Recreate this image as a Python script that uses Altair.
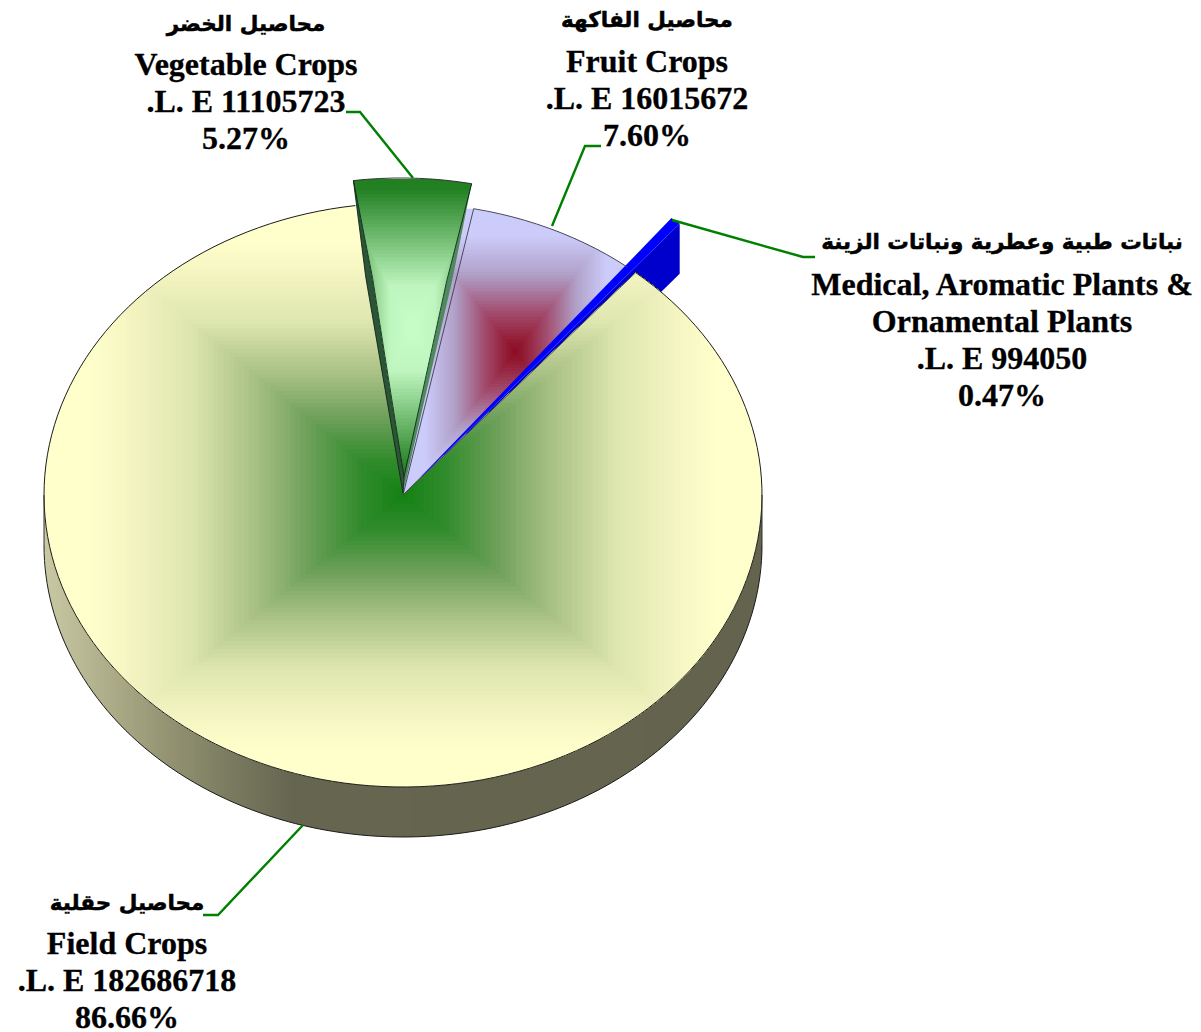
import numpy as np
import pandas as pd
import altair as alt

alt.data_transformers.disable_max_rows()

# ---- data ----
names_ar = ["محاصيل حقلية", "محاصيل الخضر", "محاصيل الفاكهة", "نباتات طبية وعطرية ونباتات الزينة"]
names_en = [["Field Crops"], ["Vegetable Crops"], ["Fruit Crops"], ["Medical, Aromatic Plants &", "Ornamental Plants"]]
values = [182686718, 11105723, 16015672, 994050]

# ---- layout ----
CX, CY, RX, RY, DEPTH = 403.0, 495.0, 359.0, 292.0, 50.0
START = 40.4
VEG_SHIFT = (-2.0, -25.0)
MED_SHIFT = (44.0, -49.0)
FRUIT_UNDERLAP = 3.0
LABEL_X = [127, 246, 647, 1002]
LABEL_Y = [[904, 944, 981, 1018], [25, 65, 102, 139], [21, 62, 99, 136], [243, 285, 322, 359, 396]]
LEADERS = [
    [(203, 915), (218, 915), (303, 825)],
    [(346, 112), (360, 112), (413, 178)],
    [(601, 146), (585, 146), (552, 226)],
    [(815, 257), (803, 257), (672, 220)],
]
LEADER_GREEN = "#008000"

total = sum(values)
spans = [v / total * 360 for v in values]
edges = [START]
for s in spans:
    edges.append(edges[-1] + s)


def pt(deg, shift=(0.0, 0.0)):
    a = np.radians(deg)
    return (CX + RX * np.sin(a) + shift[0], CY - RY * np.cos(a) + shift[1])


def arc(a0, a1, shift=(0.0, 0.0), step=2.0):
    n = max(2, int(abs(a1 - a0) / step) + 1)
    return [pt(d, shift) for d in np.linspace(a0, a1, n)]


def clip_rect(poly, x0, x1, y0, y1):
    def clip(p, inside, cross):
        out = []
        for i in range(len(p)):
            a, b = p[i - 1], p[i]
            ia, ib = inside(a), inside(b)
            if ib:
                if not ia:
                    out.append(cross(a, b))
                out.append(b)
            elif ia:
                out.append(cross(a, b))
        return out

    def cx(v):
        return lambda a, b: (v, a[1] + (b[1] - a[1]) * (v - a[0]) / (b[0] - a[0]))

    def cy(v):
        return lambda a, b: (a[0] + (b[0] - a[0]) * (v - a[1]) / (b[1] - a[1]), v)

    for inside, cross in [
        (lambda q: q[0] >= x0, cx(x0)),
        (lambda q: q[0] <= x1, cx(x1)),
        (lambda q: q[1] >= y0, cy(y0)),
        (lambda q: q[1] <= y1, cy(y1)),
    ]:
        if not poly:
            return poly
        poly = clip(poly, inside, cross)
    return poly


def ramp(stops, t):
    ts = [s[0] for s in stops]
    rgb = [np.interp(t, ts, [s[1][k] for s in stops]) for k in range(3)]
    return "#%02x%02x%02x" % tuple(int(round(v)) for v in rgb)


polys = []  # (points, colour)


def add(points, colour):
    polys.append((points, colour))


def gradient(poly, center, half, stops, levels):
    for t in np.linspace(1.0, 0.0, levels, endpoint=False):
        p = clip_rect(poly, center[0] - half[0] * t, center[0] + half[0] * t,
                      center[1] - half[1] * t, center[1] + half[1] * t)
        if len(p) >= 3:
            add(p, ramp(stops, t))


# extruded wall of the big slice, shaded in vertical strips
wall_stops = [(44, (200, 200, 163)), (100, (176, 176, 140)), (170, (146, 146, 114)),
              (230, (122, 122, 96)), (290, (102, 101, 80)), (762, (100, 99, 78))]
for x in np.arange(CX - RX, CX + RX, 3.0):
    xs = np.linspace(x, min(x + 3.8, CX + RX), 3)
    top = CY + RY * np.sqrt(np.clip(1 - ((xs - CX) / RX) ** 2, 0, 1))
    p = list(zip(xs, top)) + list(zip(xs[::-1], (top + DEPTH)[::-1]))
    add(p, ramp(wall_stops, x))

apex = (CX, CY)
# medicinal slice: wall, fruit slice, then medicinal top face
m0, m1 = pt(edges[3], MED_SHIFT), pt(edges[4], MED_SHIFT)
add([m1, (m1[0], m1[1] + DEPTH), (CX, CY + DEPTH), apex], "#0000cc")

fruit_true = [apex] + arc(edges[2], edges[3])
fx = [p[0] for p in fruit_true]
fy = [p[1] for p in fruit_true]
fruit_poly = [apex] + arc(edges[2] - FRUIT_UNDERLAP, edges[3])
gradient(fruit_poly, ((min(fx) + max(fx)) / 2, (min(fy) + max(fy)) / 2),
         ((max(fx) - min(fx)) / 2, (max(fy) - min(fy)) / 2),
         [(0, (139, 10, 35)), (0.1, (148, 30, 55)), (0.3, (163, 80, 115)), (0.55, (176, 160, 200)),
          (0.82, (204, 204, 250)), (1, (204, 204, 250))], 45)

add([apex, m0, m1], "#0000ff")

# big slice
field_poly = [apex] + arc(edges[0], edges[1])
gradient(field_poly, apex, (RX, RY),
         [(0, (18, 128, 18)), (0.13, (50, 140, 45)), (0.27, (110, 160, 90)), (0.41, (165, 190, 130)),
          (0.6, (222, 230, 175)), (0.8, (248, 248, 197)), (0.88, (255, 255, 204)), (1, (255, 255, 204))], 70)

# pulled-out vegetable slice: side walls and top face
v_arc = arc(edges[1], edges[2], VEG_SHIFT)
vl, vr = v_arc[0], v_arc[-1]
base = (CX, CY - 2)
inner = (CX + 1, CY - 18)


def lerp(a, b, f):
    return (a[0] + (b[0] - a[0]) * f, a[1] + (b[1] - a[1]) * f)


lmo = (lerp(vl, base, 0.31)[0] - 3, lerp(vl, base, 0.31)[1])
lmi = (lerp(vl, inner, 0.33)[0] + 2.5, lerp(vl, inner, 0.33)[1])
rmo = (lerp(vr, base, 0.31)[0] + 2, lerp(vr, base, 0.31)[1])
rmi = (lerp(vr, inner, 0.33)[0] - 2.5, lerp(vr, inner, 0.33)[1])
add([vl, lmo, base, inner, lmi], "#2c5536")
add([vr, rmo, base, inner, rmi], "#4f8a5f")
veg_poly = v_arc + [rmi, inner, lmi]
vx = [p[0] for p in veg_poly]
vy = [p[1] for p in veg_poly]
gradient(veg_poly, ((min(vx) + max(vx)) / 2, (min(vy) + max(vy)) / 2 + 1),
         ((max(vx) - min(vx)) / 2 * 1.35, (max(vy) - min(vy)) / 2),
         [(0, (200, 255, 200)), (0.3, (190, 245, 190)), (0.95, (34, 128, 34)), (1, (34, 128, 34))], 40)

rows = []
for pid, (points, colour) in enumerate(polys):
    for i, (x, y) in enumerate(points):
        rows.append({"pid": pid, "i": i, "x": round(float(x), 2), "y": round(float(y), 2), "c": colour})
poly_df = pd.DataFrame(rows)

X = alt.X("x:Q", scale=alt.Scale(domain=[8, 1193], range=[0, 1185]), axis=None)
Y = alt.Y("y:Q", scale=alt.Scale(domain=[1032, 8], range=[1024, 0]), axis=None)

fills = alt.Chart(poly_df).mark_line(filled=True, interpolate="linear", clip=False, strokeWidth=0).encode(
    x=X, y=Y, detail="pid:N", order="i:Q", fill=alt.Fill("c:N", scale=None))

# ---- outlines ----
outlines = [
    (arc(edges[0], edges[1]), "#1c1c1c", 1.0),
    ([apex, pt(edges[0])], "#4a4a4a", 1.0),
    ([apex] + arc(edges[2], edges[3]), "#3c3c4c", 0.9),
    ([(CX - RX, CY), (CX - RX, CY + DEPTH)], "#333333", 1.0),
    ([(CX + RX, CY), (CX + RX, CY + DEPTH)], "#333333", 1.0),
    ([(CX + RX * np.cos(a), CY + DEPTH + RY * np.sin(a)) for a in np.linspace(0, np.pi, 120)], "#1c1c1c", 1.0),
    (v_arc, "#333333", 1.0),
    ([vl, lmo, base], "#10251a", 0.9),
    ([vl, lmi, inner], "#10251a", 0.9),
    ([vr, rmi, inner, base], "#10251a", 0.9),
]
rows = []
for pid, (points, colour, w) in enumerate(outlines):
    for i, (x, y) in enumerate(points):
        rows.append({"pid": pid, "i": i, "x": float(x), "y": float(y), "c": colour, "w": w})
line_df = pd.DataFrame(rows)
lines = alt.Chart(line_df).mark_line(interpolate="linear", clip=False).encode(
    x=X, y=Y, detail="pid:N", order="i:Q", stroke=alt.Stroke("c:N", scale=None),
    strokeWidth=alt.StrokeWidth("w:Q", scale=None))

# ---- leaders ----
rows = []
for pid, points in enumerate(LEADERS):
    for i, (x, y) in enumerate(points):
        rows.append({"pid": pid, "i": i, "x": x, "y": y})
leaders = alt.Chart(pd.DataFrame(rows)).mark_line(
    color=LEADER_GREEN, strokeWidth=2.4, interpolate="linear", clip=False
).encode(x=X, y=Y, detail="pid:N", order="i:Q")

# ---- labels ----
ar_rows, en_rows = [], []
for k in range(4):
    ys = LABEL_Y[k]
    ar_rows.append({"x": LABEL_X[k], "y": ys[0], "t": names_ar[k]})
    lines_en = names_en[k] + [f".L. E {values[k]}", f"{values[k] / total * 100:.2f}%"]
    for j, t in enumerate(lines_en):
        en_rows.append({"x": LABEL_X[k], "y": ys[j + 1], "t": t})

ar_text = alt.Chart(pd.DataFrame(ar_rows)).mark_text(
    font="DejaVu Sans", fontWeight="bold", fontSize=21.5, align="center", baseline="middle",
    color="#000000", stroke="#000000", strokeWidth=0.5, clip=False
).encode(x=X, y=Y, text="t:N")
en_text = alt.Chart(pd.DataFrame(en_rows)).mark_text(
    font="Liberation Serif", fontWeight="bold", fontSize=32, align="center", baseline="middle",
    color="#000000", stroke="#000000", strokeWidth=0.3, clip=False
).encode(x=X, y=Y, text="t:N")

chart = alt.layer(fills, lines, leaders, ar_text, en_text).properties(
    width=1185, height=1024, padding=0, autosize=alt.AutoSizeParams(type="none"), background="#ffffff"
).configure_view(stroke=None)

chart.save("out.html", embed_options={"renderer": "svg", "actions": False})
